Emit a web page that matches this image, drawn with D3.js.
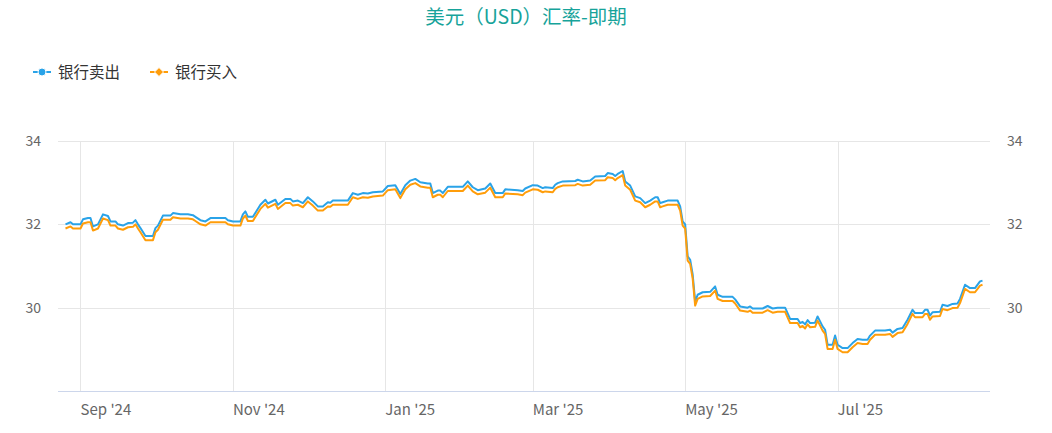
<!DOCTYPE html>
<html>
<head>
<meta charset="utf-8">
<script src="https://cdn.jsdelivr.net/npm/d3@7"></script>
<style>
  body { margin: 0; background: #fff; }
  svg { font-family: "Noto Sans CJK SC", "Noto Sans", sans-serif; }
</style>
</head>
<body>
<div id="chart"></div>
<script>
let w = 1052;
let h = 433;

// quote dates
let dates = [
  "2024-08-26","2024-08-28","2024-08-29","2024-09-01","2024-09-02","2024-09-04","2024-09-05","2024-09-06","2024-09-08","2024-09-10",
  "2024-09-12","2024-09-13","2024-09-15","2024-09-16","2024-09-18","2024-09-20","2024-09-22","2024-09-23","2024-09-24","2024-09-25",
  "2024-09-27","2024-09-30","2024-10-01","2024-10-02","2024-10-04","2024-10-07","2024-10-08","2024-10-11","2024-10-14","2024-10-16",
  "2024-10-17","2024-10-19","2024-10-21","2024-10-23","2024-10-29","2024-10-30","2024-11-01","2024-11-04","2024-11-05","2024-11-06",
  "2024-11-07","2024-11-09","2024-11-12","2024-11-14","2024-11-15","2024-11-18","2024-11-19","2024-11-22","2024-11-24","2024-11-25",
  "2024-11-27","2024-11-29","2024-12-01","2024-12-03","2024-12-05","2024-12-07","2024-12-09","2024-12-10","2024-12-11","2024-12-17",
  "2024-12-19","2024-12-21","2024-12-23","2024-12-25","2024-12-27","2024-12-31","2025-01-02","2025-01-05","2025-01-07","2025-01-09",
  "2025-01-11","2025-01-13","2025-01-15","2025-01-18","2025-01-19","2025-01-20","2025-01-22","2025-01-23","2025-01-24","2025-01-26",
  "2025-02-01","2025-02-03","2025-02-05","2025-02-07","2025-02-10","2025-02-12","2025-02-14","2025-02-17","2025-02-18","2025-02-23",
  "2025-02-25","2025-02-26","2025-03-01","2025-03-03","2025-03-05","2025-03-06","2025-03-09","2025-03-10","2025-03-11","2025-03-13",
  "2025-03-18","2025-03-19","2025-03-21","2025-03-24","2025-03-26","2025-03-30","2025-03-31","2025-04-02","2025-04-03","2025-04-04",
  "2025-04-06","2025-04-07","2025-04-09","2025-04-11","2025-04-13","2025-04-15","2025-04-17","2025-04-19","2025-04-20","2025-04-21",
  "2025-04-22","2025-04-24","2025-04-28","2025-04-29","2025-04-30","2025-05-01","2025-05-02","2025-05-03","2025-05-04","2025-05-05",
  "2025-05-06","2025-05-08","2025-05-11","2025-05-13","2025-05-14","2025-05-16","2025-05-20","2025-05-21","2025-05-23","2025-05-26",
  "2025-05-27","2025-05-28","2025-06-01","2025-06-03","2025-06-05","2025-06-07","2025-06-10","2025-06-12","2025-06-15","2025-06-16",
  "2025-06-17","2025-06-18","2025-06-19","2025-06-20","2025-06-22","2025-06-23","2025-06-25","2025-06-26","2025-06-27","2025-06-29",
  "2025-06-30","2025-07-01","2025-07-03","2025-07-05","2025-07-07","2025-07-09","2025-07-11","2025-07-13","2025-07-14","2025-07-16",
  "2025-07-20","2025-07-22","2025-07-23","2025-07-25","2025-07-27","2025-07-29","2025-07-31","2025-08-01","2025-08-04","2025-08-05",
  "2025-08-06","2025-08-07","2025-08-08","2025-08-11","2025-08-12","2025-08-14","2025-08-16","2025-08-18","2025-08-19","2025-08-21",
  "2025-08-23","2025-08-25","2025-08-27","2025-08-28"
];

// 银行卖出
let sellRate = [
  32.00,32.05,32.00,32.00,32.12,32.15,32.15,31.95,32.00,32.24,
  32.20,32.07,32.07,32.00,31.97,32.03,32.04,32.10,32.00,31.91,
  31.72,31.72,31.91,31.97,32.21,32.21,32.27,32.24,32.24,32.22,
  32.18,32.10,32.07,32.15,32.15,32.10,32.07,32.07,32.24,32.31,
  32.18,32.18,32.47,32.59,32.50,32.59,32.47,32.61,32.61,32.55,
  32.57,32.51,32.65,32.55,32.43,32.43,32.53,32.52,32.57,32.57,
  32.75,32.71,32.75,32.74,32.77,32.79,32.92,32.94,32.73,32.94,
  33.05,33.09,33.01,32.98,32.98,32.75,32.81,32.81,32.75,32.90,
  32.90,33.03,32.89,32.82,32.86,32.98,32.75,32.75,32.84,32.82,
  32.80,32.86,32.94,32.93,32.87,32.89,32.87,32.95,32.99,33.03,
  33.04,33.07,33.03,33.05,33.15,33.16,33.23,33.21,33.16,33.21,
  33.28,33.03,32.93,32.67,32.63,32.51,32.57,32.65,32.65,32.51,
  32.53,32.57,32.57,32.43,32.07,32.00,31.23,31.15,30.80,30.15,
  30.31,30.37,30.38,30.51,30.31,30.26,30.26,30.20,30.03,30.00,
  30.03,29.98,29.98,30.04,29.98,30.00,30.00,29.73,29.73,29.63,
  29.66,29.60,29.70,29.63,29.64,29.79,29.55,29.47,29.11,29.11,
  29.33,29.11,29.03,29.03,29.15,29.25,29.23,29.23,29.33,29.45,
  29.45,29.47,29.40,29.49,29.51,29.71,29.95,29.87,29.87,29.95,
  29.95,29.81,29.89,29.90,30.07,30.04,30.09,30.10,30.21,30.55,
  30.47,30.47,30.63,30.65
];

// 银行买入
let buyRate = [
  31.90,31.95,31.90,31.90,32.02,32.05,32.05,31.85,31.90,32.14,
  32.10,31.97,31.97,31.90,31.87,31.93,31.94,32.00,31.90,31.81,
  31.62,31.62,31.81,31.87,32.11,32.11,32.17,32.14,32.14,32.12,
  32.08,32.00,31.97,32.05,32.05,32.00,31.97,31.97,32.14,32.21,
  32.08,32.08,32.37,32.49,32.40,32.49,32.37,32.51,32.51,32.45,
  32.47,32.41,32.55,32.45,32.33,32.33,32.43,32.42,32.47,32.47,
  32.65,32.61,32.65,32.64,32.67,32.69,32.82,32.84,32.63,32.84,
  32.95,32.99,32.91,32.88,32.88,32.65,32.71,32.71,32.65,32.80,
  32.80,32.93,32.79,32.72,32.76,32.88,32.65,32.65,32.74,32.72,
  32.70,32.76,32.84,32.83,32.77,32.79,32.77,32.85,32.89,32.93,
  32.94,32.97,32.93,32.95,33.05,33.06,33.13,33.11,33.06,33.11,
  33.18,32.93,32.83,32.57,32.53,32.41,32.47,32.55,32.55,32.41,
  32.43,32.47,32.47,32.33,31.97,31.90,31.13,31.05,30.70,30.05,
  30.21,30.27,30.28,30.41,30.21,30.16,30.16,30.10,29.93,29.90,
  29.93,29.88,29.88,29.94,29.88,29.90,29.90,29.63,29.63,29.53,
  29.56,29.50,29.60,29.53,29.54,29.69,29.45,29.37,29.01,29.01,
  29.23,29.01,28.93,28.93,29.05,29.15,29.13,29.13,29.23,29.35,
  29.35,29.37,29.30,29.39,29.41,29.61,29.85,29.77,29.77,29.85,
  29.85,29.71,29.79,29.80,29.97,29.94,29.99,30.00,30.11,30.45,
  30.37,30.37,30.53,30.55
];

let yTicks = [30, 32, 34];
let xTickDates = ["2024-09-01","2024-11-01","2025-01-01","2025-03-01","2025-05-01","2025-07-01"];
let xTickLabels = ["Sep '24","Nov '24","Jan '25","Mar '25","May '25","Jul '25"];
let seriesNames = ["银行卖出", "银行买入"];
let seriesColors = ["#2aa3e8", "#ff9d0a"];

let parseDate = d3.timeParse("%Y-%m-%d");

let plotLeft = 58, plotRight = 990, plotTop = 141, plotBottom = 391;

let xScale = d3.scaleTime()
  .domain([parseDate("2024-08-23"), parseDate("2025-08-31")])
  .range([plotLeft, plotRight]);
let yScale = d3.scaleLinear().domain([28, 34]).range([plotBottom, plotTop]);

let svg = d3.select("#chart").append("svg")
  .attr("width", w)
  .attr("height", h);

// title
svg.append("text")
  .attr("x", w / 2)
  .attr("y", 24)
  .attr("text-anchor", "middle")
  .attr("fill", "#17a39a")
  .style("font-size", "19.5px")
  .text("美元（USD）汇率-即期");

// legend
let legend = svg.selectAll(".legenditem").data(seriesNames).enter()
  .append("g")
    .attr("class", "legenditem")
    .attr("transform", (d, i) => "translate(" + (33 + i * 117) + ",72)");
legend.append("line")
  .attr("x1", 0).attr("x2", 18)
  .attr("stroke", (d, i) => seriesColors[i])
  .attr("stroke-width", 2);
legend.each(function(d, i){
  let g = d3.select(this);
  if (i == 0) {
    g.append("circle").attr("cx", 9).attr("r", 4)
      .attr("fill", seriesColors[i]).attr("stroke", "#fff").attr("stroke-width", 1);
  } else {
    g.append("path").attr("d", "M9,-4.5L13.5,0L9,4.5L4.5,0Z")
      .attr("fill", seriesColors[i]).attr("stroke", "#fff").attr("stroke-width", 1);
  }
});
legend.append("text")
  .attr("x", 25)
  .attr("y", 5.5)
  .attr("fill", "#333")
  .style("font-size", "15.5px")
  .text(d => d);

// vertical grid
svg.append("g").selectAll("line").data(xTickDates).enter()
  .append("line")
    .attr("x1", d => Math.round(xScale(parseDate(d))) + 0.5)
    .attr("x2", d => Math.round(xScale(parseDate(d))) + 0.5)
    .attr("y1", plotTop)
    .attr("y2", plotBottom)
    .attr("stroke", "#e6e6e6");

// horizontal grid
svg.append("g").selectAll("line").data(yTicks).enter()
  .append("line")
    .attr("x1", plotLeft)
    .attr("x2", plotRight)
    .attr("y1", d => Math.round(yScale(d)) + 0.5)
    .attr("y2", d => Math.round(yScale(d)) + 0.5)
    .attr("stroke", "#e6e6e6");

// x axis line
svg.append("line")
  .attr("x1", plotLeft).attr("x2", plotRight)
  .attr("y1", plotBottom + 0.5).attr("y2", plotBottom + 0.5)
  .attr("stroke", "#ccd6eb");

// x labels
svg.append("g").selectAll("text").data(xTickDates).enter()
  .append("text")
    .attr("x", d => xScale(parseDate(d)))
    .attr("y", 415)
    .attr("fill", "#666")
    .style("font-size", "15px")
    .text((d, i) => xTickLabels[i]);

// y labels both sides
svg.append("g").selectAll("text").data(yTicks).enter()
  .append("text")
    .attr("x", 41)
    .attr("y", d => yScale(d) + 5)
    .attr("text-anchor", "end")
    .attr("fill", "#666")
    .style("font-size", "14px")
    .text(d => d);
svg.append("g").selectAll("text").data(yTicks).enter()
  .append("text")
    .attr("x", 1007)
    .attr("y", d => yScale(d) + 5)
    .attr("fill", "#666")
    .style("font-size", "14px")
    .text(d => d);

// lines
let line = d3.line()
  .x((d, i) => xScale(parseDate(dates[i])))
  .y(d => yScale(d));

[sellRate, buyRate].forEach(function(series, k){
  svg.append("path")
    .datum(series)
    .attr("fill", "none")
    .attr("stroke", seriesColors[k])
    .attr("stroke-width", 2)
    .attr("stroke-linejoin", "round")
    .attr("d", line);
});
</script>
</body>
</html>
